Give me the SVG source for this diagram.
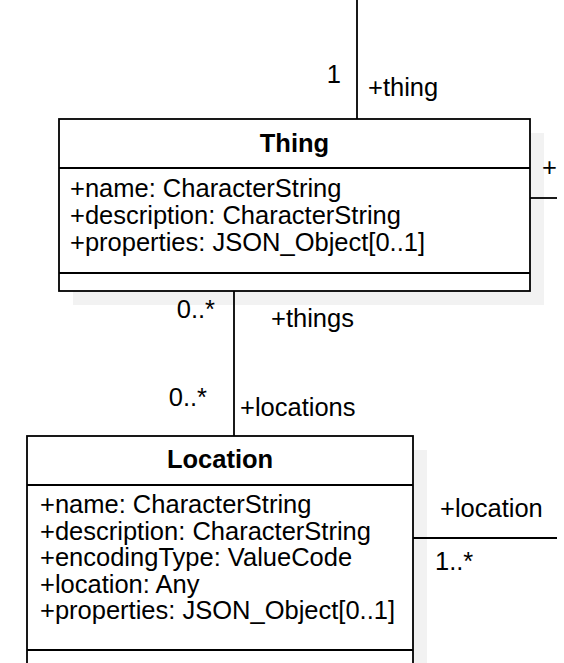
<svg xmlns="http://www.w3.org/2000/svg" width="564" height="663" viewBox="0 0 564 663">
<style>
text{font-family:"Liberation Sans",Arial,sans-serif;font-size:25.5px;fill:#000}
.t{font-weight:bold;text-anchor:middle}
.box{fill:#fff;stroke:#000;stroke-width:1.8}
.sh{fill:#f2f2f2}
.ln{stroke:#000;stroke-width:1.8;fill:none}
</style>
<rect width="564" height="663" fill="#fff"/>
<g id="Thing">
<rect class="sh" x="73" y="133" width="471" height="172"/>
<rect class="box" x="59" y="119" width="471" height="172"/>
<line class="ln" x1="59" y1="168" x2="530" y2="168"/>
<line class="ln" x1="59" y1="273" x2="530" y2="273"/>
<text class="t" x="294.5" y="152">Thing</text>
<text x="70" y="197">+name: CharacterString</text>
<text x="70" y="224">+description: CharacterString</text>
<text x="70" y="251">+properties: JSON_Object[0..1]</text>
</g>
<g id="Location">
<rect class="sh" x="41" y="450" width="386" height="240"/>
<rect class="box" x="27" y="436" width="386" height="240"/>
<line class="ln" x1="27" y1="485" x2="413" y2="485"/>
<line class="ln" x1="27" y1="650" x2="413" y2="650"/>
<text class="t" x="220" y="468">Location</text>
<text x="40" y="513">+name: CharacterString</text>
<text x="40" y="540">+description: CharacterString</text>
<text x="40" y="566">+encodingType: ValueCode</text>
<text x="40" y="593">+location: Any</text>
<text x="40" y="619">+properties: JSON_Object[0..1]</text>
</g>
<g id="connectors">
<line class="ln" x1="357" y1="0" x2="357" y2="119"/>
<line class="ln" x1="234" y1="291" x2="234" y2="436"/>
<line class="ln" x1="530" y1="198" x2="557" y2="198"/>
<line class="ln" x1="413" y1="538" x2="557" y2="538"/>
<text x="341" y="83" text-anchor="end">1</text>
<text x="368" y="96">+thing</text>
<text x="542" y="176">+</text>
<text x="215" y="318" text-anchor="end">0..*</text>
<text x="271" y="327">+things</text>
<text x="207" y="406" text-anchor="end">0..*</text>
<text x="240" y="416">+locations</text>
<text x="440" y="517">+location</text>
<text x="435" y="570">1..*</text>
</g>
</svg>
